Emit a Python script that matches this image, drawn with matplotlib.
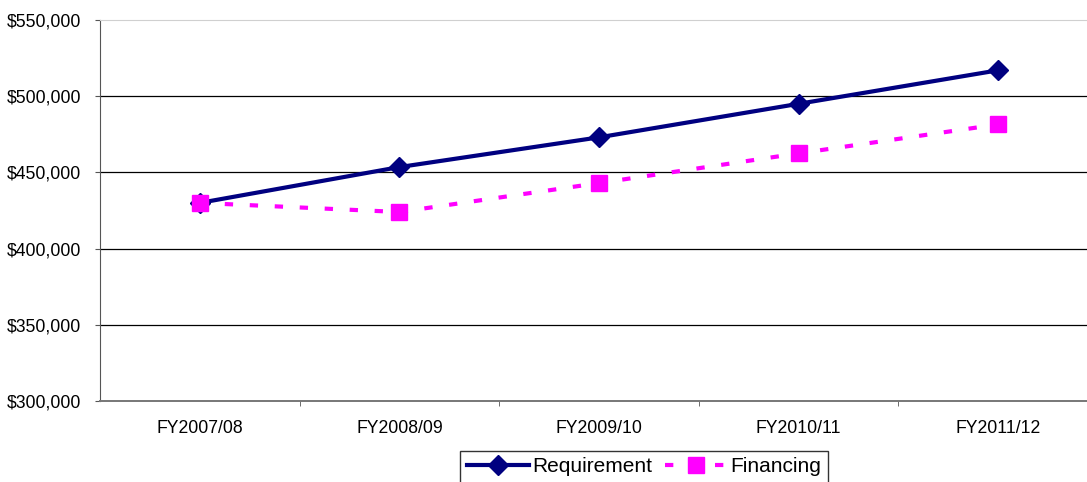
import matplotlib.pyplot as plt
from matplotlib.ticker import FuncFormatter, FixedLocator

plt.rcParams['font.family'] = ['Liberation Sans', 'DejaVu Sans']

years = ['FY2007/08', 'FY2008/09', 'FY2009/10', 'FY2010/11', 'FY2011/12']
requirement = [430000, 453500, 473000, 495000, 517000]
financing = [430000, 424000, 443000, 462500, 481500]

fig = plt.figure(figsize=(10.87, 4.82), dpi=100)
ax = fig.add_axes([100 / 1087, 81 / 482, 998 / 1087, 381 / 482])

x = range(len(years))
ax.plot(x, requirement, color='#000080', lw=3, marker='D', markersize=10,
        label='Requirement', zorder=3)
ax.plot(x, financing, color='#ff00ff', lw=3, dashes=(2, 4), marker='s',
        markersize=11.5, label='Financing', zorder=4)

ax.set_xlim(-0.5, len(years) - 0.5)
ax.set_ylim(300000, 550000)
ax.set_yticks(range(300000, 550001, 50000))
ax.yaxis.set_major_formatter(FuncFormatter(lambda v, p: '${:,.0f}'.format(v)))
ax.set_xticks(list(x))
ax.set_xticklabels(years)
ax.xaxis.set_minor_locator(FixedLocator([i + 0.5 for i in range(len(years) - 1)]))
ax.tick_params(axis='x', which='major', length=0, pad=14, labelsize=12.7)
ax.tick_params(axis='x', which='minor', length=3.6, direction='out', color='#555555')
ax.tick_params(axis='y', length=3.6, direction='out', color='#555555', labelsize=12.7, pad=10)

for v in range(350000, 550000, 50000):
    ax.axhline(v, color='black', lw=0.9, zorder=1)
ax.spines['top'].set_color('#d0d0d0')
ax.spines['right'].set_visible(False)
ax.spines['left'].set_color('#555555')
ax.spines['bottom'].set_color('#777777')
ax.spines['bottom'].set_linewidth(1.4)

leg = fig.legend(loc='upper center', bbox_to_anchor=(644 / 1087, 31 / 482), ncol=2,
                 fontsize=15, frameon=True, fancybox=False, edgecolor='black',
                 handlelength=3, columnspacing=0.6, handletextpad=0.15,
                 borderpad=0.3, borderaxespad=0)
leg.get_frame().set_linewidth(1.0)

fig.savefig('out.png', dpi=100)
